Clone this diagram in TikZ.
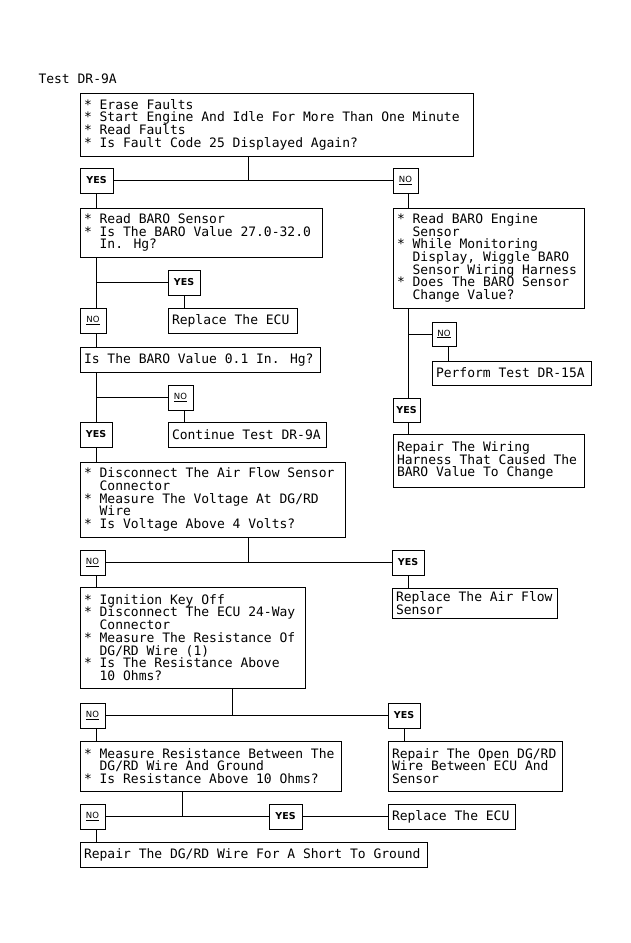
\documentclass[tikz,border=0pt]{standalone}
\usepackage{fontspec}
\usepackage{tikz}
\usetikzlibrary{positioning}

\newfontfamily\monofont{DejaVu Sans Mono}
\newfontfamily\tagfont{DejaVu Sans}
\newcommand{\boxfont}{\monofont\fontsize{13}{12.7}\selectfont}
\newcommand{\ind}{\hphantom{00}}
\newcommand{\bul}{{*}\ }
% fixed-width block of left-aligned lines
\newcommand{\lines}[2]{\makebox[#1][l]{\vbox{\lineskiplimit=-10pt\relax\let\\\cr\halign{##\hfil\cr#2\crcr}}}}

\tikzstyle{stepbox} = [draw, anchor=north west, outer sep=0pt, inner xsep=4pt, inner ysep=0pt, font=\boxfont]
\tikzstyle{yesbox} = [draw, anchor=north west, outer sep=0pt, inner sep=0pt, minimum width=32pt, minimum height=25pt, font=\tagfont\fontsize{9.5}{11}\selectfont\bfseries]
\tikzstyle{nobox} = [draw, anchor=north west, outer sep=0pt, inner sep=0pt, minimum width=25pt, minimum height=25pt, font=\tagfont\fontsize{8.5}{10}\selectfont]

\begin{document}
\begin{tikzpicture}[x=1pt, y=-1pt, line width=1pt]

   \useasboundingbox (0,0) rectangle (631,943);

   % Title
   \node[anchor=west, inner sep=0pt, font=\boxfont] (title) at (38,79) {Test DR-9A};

   % First check
   \node[stepbox, minimum height=63pt] (b1) at (80,93)
      {\lines{385pt}{\bul Erase Faults\\
       \bul Start Engine And Idle For More Than One Minute\\
       \bul Read Faults\\
       \bul Is Fault Code 25 Displayed Again?}};
   \node[yesbox, minimum width=33pt] (yes1) at (80,168) {YES};
   \node[nobox] (no1) at (393,168) {\underline{NO}};

   % Left column
   \node[stepbox, minimum height=49pt] (b2) at (80,208)
      {\lines{234pt}{\bul Read BARO Sensor\\
       \bul Is The BARO Value 27.0-32.0\\
       \ind In. Hg?}};
   \node[yesbox] (yes2) at (168,270) {YES};
   \node[stepbox, minimum height=25pt] (ecu1) at (168,308) {\lines{121pt}{Replace The ECU}};
   \node[nobox, minimum width=26pt] (no2) at (80,308) {\underline{NO}};

   \node[stepbox, minimum height=25pt] (b3) at (80,347) {\lines{232pt}{Is The BARO Value 0.1 In. Hg?}};
   \node[nobox] (no3) at (168,385) {\underline{NO}};
   \node[stepbox, minimum height=25pt] (cont) at (168,422) {\lines{150pt}{Continue Test DR-9A}};
   \node[yesbox] (yes3) at (80,422) {YES};

   \node[stepbox, minimum height=75pt] (b4) at (80,462)
      {\lines{257pt}{\bul Disconnect The Air Flow Sensor\\
       \ind Connector\\
       \bul Measure The Voltage At DG/RD\\
       \ind Wire\\
       \bul Is Voltage Above 4 Volts?}};
   \node[nobox] (no4) at (80,550) {\underline{NO}};
   \node[yesbox] (yes4) at (392,550) {YES};
   \node[stepbox, minimum height=30pt] (air) at (392,588)
      {\lines{157pt}{Replace The Air Flow\\
       Sensor}};

   \node[stepbox, minimum height=101pt] (b5) at (80,587)
      {\lines{217pt}{\bul Ignition Key Off\\
       \bul Disconnect The ECU 24-Way\\
       \ind Connector\\
       \bul Measure The Resistance Of\\
       \ind DG/RD Wire (1)\\
       \bul Is The Resistance Above\\
       \ind 10 Ohms?}};
   \node[nobox] (no5) at (80,703) {\underline{NO}};
   \node[yesbox] (yes5) at (388,703) {YES};
   \node[stepbox, minimum height=50pt] (open) at (388,741)
      {\lines{166pt}{Repair The Open DG/RD\\
       Wire Between ECU And\\
       Sensor}};

   \node[stepbox, minimum height=50pt] (b6) at (80,741)
      {\lines{253pt}{\bul Measure Resistance Between The\\
       \ind DG/RD Wire And Ground\\
       \bul Is Resistance Above 10 Ohms?}};
   \node[nobox] (no6) at (80,804) {\underline{NO}};
   \node[yesbox, minimum width=33pt] (yes6) at (269,804) {YES};
   \node[stepbox, minimum height=25pt] (ecu2) at (388,804) {\lines{119pt}{Replace The ECU}};
   \node[stepbox, minimum height=25pt] (fin) at (80,842) {\lines{339pt}{Repair The DG/RD Wire For A Short To Ground}};

   % Right column
   \node[stepbox, minimum height=100pt] (r1) at (393,208)
      {\lines{183pt}{\bul Read BARO Engine\\
       \ind Sensor\\
       \bul While Monitoring\\
       \ind Display, Wiggle BARO\\
       \ind Sensor Wiring Harness\\
       \bul Does The BARO Sensor\\
       \ind Change Value?}};
   \node[nobox, minimum width=24pt, minimum height=24pt] (no7) at (432,322) {\underline{NO}};
   \node[stepbox, minimum height=24pt] (perf) at (432,361) {\lines{151pt}{Perform Test DR-15A}};
   \node[yesbox, minimum width=27pt, minimum height=24pt] (yes7) at (393,398) {YES};
   \node[stepbox, minimum height=53pt] (wir) at (393,434)
      {\lines{183pt}{Repair The Wiring\\
       Harness That Caused The\\
       BARO Value To Change}};

   % Trunk lines
   \coordinate (lx) at (96,0);
   \coordinate (rx) at (408,0);
   \coordinate (px) at (448,0);

   % Junctions under the checks
   \coordinate (j1) at (248,181);
   \coordinate (j2) at (248,562);
   \coordinate (j3) at (232,715);
   \coordinate (j4) at (182,816);

   \draw (j1 |- b1.south) -- (j1);
   \draw (yes1) -- (no1);
   \draw (j2 |- b4.south) -- (j2);
   \draw (no4) -- (yes4);
   \draw (j3 |- b5.south) -- (j3);
   \draw (no5) -- (yes5);
   \draw (j4 |- b6.south) -- (j4);
   \draw (no6) -- (yes6);
   \draw (yes6) -- (ecu2);

   % Left trunk
   \draw (yes1.south -| lx) -- (b2.north -| lx);
   \draw (b2.south -| lx) -- (no2.north -| lx);
   \draw (no2.south -| lx) -- (b3.north -| lx);
   \draw (b3.south -| lx) -- (yes3.north -| lx);
   \draw (yes3.south -| lx) -- (b4.north -| lx);
   \draw (no4.south -| lx) -- (b5.north -| lx);
   \draw (no5.south -| lx) -- (b6.north -| lx);
   \draw (no6.south -| lx) -- (fin.north -| lx);

   % Side branches
   \draw (yes2.west -| lx) -- (yes2.west);
   \draw (yes2.south) -- (yes2.south |- ecu1.north);
   \draw (no3.west -| lx) -- (no3.west);
   \draw (no3.south -| yes2) -- (cont.north -| yes2);
   \draw (yes4.south) -- (yes4.south |- air.north);
   \draw (yes5.south) -- (yes5.south |- open.north);

   % Right trunk
   \draw (no1.south -| rx) -- (r1.north -| rx);
   \draw (r1.south -| rx) -- (yes7.north -| rx);
   \draw (yes7.south -| rx) -- (wir.north -| rx);
   \draw (no7.west -| rx) -- (no7.west);
   \draw (no7.south -| px) -- (perf.north -| px);

\end{tikzpicture}
\end{document}
